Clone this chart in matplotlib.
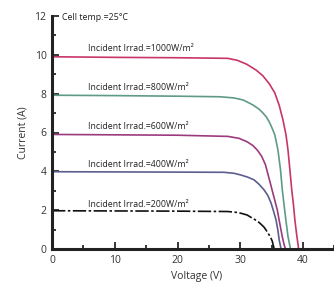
import matplotlib
matplotlib.use("Agg")
import matplotlib.pyplot as plt
from matplotlib.ticker import MultipleLocator

plt.rcParams['font.family'] = ['Open Sans', 'DejaVu Sans']

irradiances = ["1000", "800", "600", "400", "200"]
v1000 = [0, 10, 20, 28, 29.5, 31, 32.5, 33.6, 34.6, 35.5, 36.2, 36.8, 37.3, 37.6, 37.9, 38.2, 38.5, 38.7, 39.0, 39.3]
i1000 = [9.9, 9.87, 9.85, 9.82, 9.72, 9.52, 9.22, 8.92, 8.52, 8.04, 7.4, 6.65, 5.85, 5.1, 4.1, 3.04, 2.2, 1.49, 0.7, 0]
v800 = [0, 10, 20, 26.8, 29, 30.5, 32.0, 33.0, 33.6, 34.2, 34.7, 35.1, 35.5, 36.0, 36.4, 36.7, 37.0, 37.3, 37.6, 38.0]
i800 = [7.92, 7.9, 7.87, 7.84, 7.78, 7.67, 7.42, 7.2, 7.01, 6.78, 6.49, 6.2, 5.88, 5.1, 4.1, 3.04, 2.2, 1.4, 0.65, 0]
v600 = [0, 10, 20, 28, 29.8, 31.1, 32.0, 32.7, 33.4, 34.0, 34.7, 35.3, 35.9, 36.3, 36.7, 37.0, 37.2]
i600 = [5.9, 5.88, 5.86, 5.8, 5.7, 5.52, 5.33, 5.1, 4.78, 4.35, 3.5, 2.75, 2.01, 1.3, 0.62, 0.2, 0]
v400 = [0, 10, 20, 27.4, 29, 30.1, 31.2, 32.2, 33.0, 33.8, 34.4, 34.9, 35.3, 35.7, 36.0, 36.2, 36.5]
i400 = [3.98, 3.97, 3.96, 3.95, 3.9, 3.81, 3.7, 3.56, 3.33, 3.04, 2.75, 2.37, 1.95, 1.49, 0.95, 0.46, 0]
v200 = [0, 10, 20, 28, 29.3, 30.0, 31.1, 31.6, 32.4, 33.1, 33.8, 34.3, 34.8, 35.1, 35.4]
i200 = [1.97, 1.96, 1.95, 1.93, 1.89, 1.85, 1.75, 1.65, 1.5, 1.34, 1.12, 0.88, 0.62, 0.4, 0]

curves = [(v1000, i1000, '#c8356a', '-'),
          (v800, i800, '#5f9a88', '-'),
          (v600, i600, '#9c3a7e', '-'),
          (v400, i400, '#5b5e8c', '-'),
          (v200, i200, '#111111', (0, (8, 1.5, 1.5, 1.5)))]
label_y = [9.95, 7.95, 5.95, 4.0, 1.95]

fig = plt.figure(figsize=(3.34, 2.86), dpi=100)
ax = fig.add_axes([52/334, 37/286, 288.7/334, 233/286])
for (v, i, c, ls), irr, ly in zip(curves, irradiances, label_y):
    ax.plot(v, i, color=c, lw=1.2, ls=ls, solid_joinstyle='round', solid_capstyle='round')
    ax.text(5.7, ly + 0.12, f"Incident Irrad.={irr}W/m²", fontsize=6.3,
            color='#222222', va='bottom', ha='left')

ax.text(1.6, 11.9, "Cell temp.=25°C", fontsize=6.4, color='#222222', va='center', ha='left')

ax.set_xlim(0, 46)
ax.set_ylim(0, 12)
ax.xaxis.set_major_locator(MultipleLocator(10))
ax.xaxis.set_minor_locator(MultipleLocator(5))
ax.yaxis.set_major_locator(MultipleLocator(2))
ax.yaxis.set_minor_locator(MultipleLocator(1))
ax.tick_params(which='major', direction='in', length=5, width=1.1, labelsize=7.5,
               labelcolor='#333333', pad=4)
ax.tick_params(which='minor', direction='in', length=3, width=1.1)
for s in ['top', 'right']:
    ax.spines[s].set_visible(False)
for s in ['left', 'bottom']:
    ax.spines[s].set_linewidth(2.2)
    ax.spines[s].set_color('#222222')
ax.set_xlabel("Voltage (V)", fontsize=7.5, color='#333333', labelpad=4)
ax.set_ylabel("Current (A)", fontsize=7.5, color='#333333', labelpad=4)

fig.savefig("out.png", dpi=100)
